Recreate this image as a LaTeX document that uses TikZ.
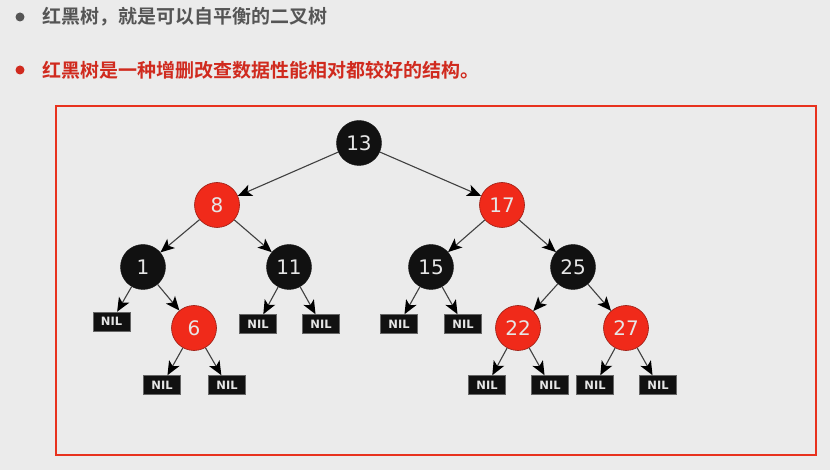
\documentclass[tikz,border=0pt]{standalone}
\usepackage{fontspec}
\setmainfont{DejaVu Sans}
\newfontfamily\cjk{Noto Sans CJK SC}[BoldFont={Noto Sans CJK SC Bold}]
\usetikzlibrary{arrows.meta}
\definecolor{bg}{HTML}{EBEBEB}
\definecolor{rednode}{HTML}{F02A1A}
\definecolor{redline}{HTML}{9A1A10}
\definecolor{blacknode}{HTML}{111111}
\definecolor{frame}{HTML}{E8321E}
\definecolor{headgrey}{HTML}{555555}
\definecolor{headred}{HTML}{D02A1E}
\definecolor{numtxt}{HTML}{E6E6E6}
\definecolor{edgec}{HTML}{404040}
\begin{document}
\begin{tikzpicture}[x=1pt,y=-1pt,
  rb/.style={circle,minimum size=45pt,inner sep=0pt,font=\fontsize{20}{22}\selectfont,text=numtxt},
  bn/.style={rb,fill=blacknode,draw=blacknode},
  rn/.style={rb,fill=rednode,draw=redline,line width=0.6pt},
  nil/.style={rectangle,fill=blacknode,draw=black!60,line width=0.5pt,minimum width=37pt,minimum height=19pt,inner sep=0pt,font=\bfseries\fontsize{11.5}{12}\selectfont,text=numtxt},
  ed/.style={draw=edgec,line width=1.1pt,-{Stealth[length=14pt,width=12pt,inset=3.5pt,color=black,line width=0pt]}},
  head/.style={anchor=west,inner sep=0pt,font=\cjk\bfseries\fontsize{19}{20}\selectfont}]
\fill[bg] (0,0) rectangle (830,470);
\useasboundingbox (0,0) rectangle (830,470);
% header
\fill[headgrey] (20,17) circle (4.5pt);
\node[head,text=headgrey] (h1) at (42,17) {红黑树，就是可以自平衡的二叉树};
\fill[headred] (20,70) circle (4.5pt);
\node[head,text=headred] (h2) at (42,70) {红黑树是一种增删改查数据性能相对都较好的结构。};
% frame
\draw[frame,line width=2.8pt] (56,106) rectangle (816,455);
% nodes
\node[bn] (n13) at (359,143) {13};
\node[rn] (n8) at (217,205) {8};
\node[rn] (n17) at (502,205) {17};
\node[bn] (n1) at (143,267) {1};
\node[bn] (n11) at (289,267) {11};
\node[bn] (n15) at (431,267) {15};
\node[bn] (n25) at (573,267) {25};
\node[rn] (n6) at (194,328) {6};
\node[rn] (n22) at (518,328) {22};
\node[rn] (n27) at (626,328) {27};
\node[nil] (a1) at (111.5,321.5) {NIL};
\node[nil] (b1) at (258,324) {NIL};
\node[nil] (b2) at (321,324) {NIL};
\node[nil] (c1) at (162,385) {NIL};
\node[nil] (c2) at (227,385) {NIL};
\node[nil] (d1) at (399,324) {NIL};
\node[nil] (d2) at (463,324) {NIL};
\node[nil] (e1) at (487,385) {NIL};
\node[nil] (e2) at (550,385) {NIL};
\node[nil] (f1) at (595,385) {NIL};
\node[nil] (f2) at (658,385) {NIL};
% edges
\draw[ed] (n13) -- (n8);
\draw[ed] (n13) -- (n17);
\draw[ed] (n8) -- (n1);
\draw[ed] (n8) -- (n11);
\draw[ed] (n17) -- (n15);
\draw[ed] (n17) -- (n25);
\draw[ed] (n1) -- (a1);
\draw[ed] (n1) -- (n6);
\draw[ed] (n11) -- (b1);
\draw[ed] (n11) -- (b2);
\draw[ed] (n6) -- (c1);
\draw[ed] (n6) -- (c2);
\draw[ed] (n15) -- (d1);
\draw[ed] (n15) -- (d2);
\draw[ed] (n25) -- (n22);
\draw[ed] (n25) -- (n27);
\draw[ed] (n22) -- (e1);
\draw[ed] (n22) -- (e2);
\draw[ed] (n27) -- (f1);
\draw[ed] (n27) -- (f2);
\end{tikzpicture}
\end{document}
